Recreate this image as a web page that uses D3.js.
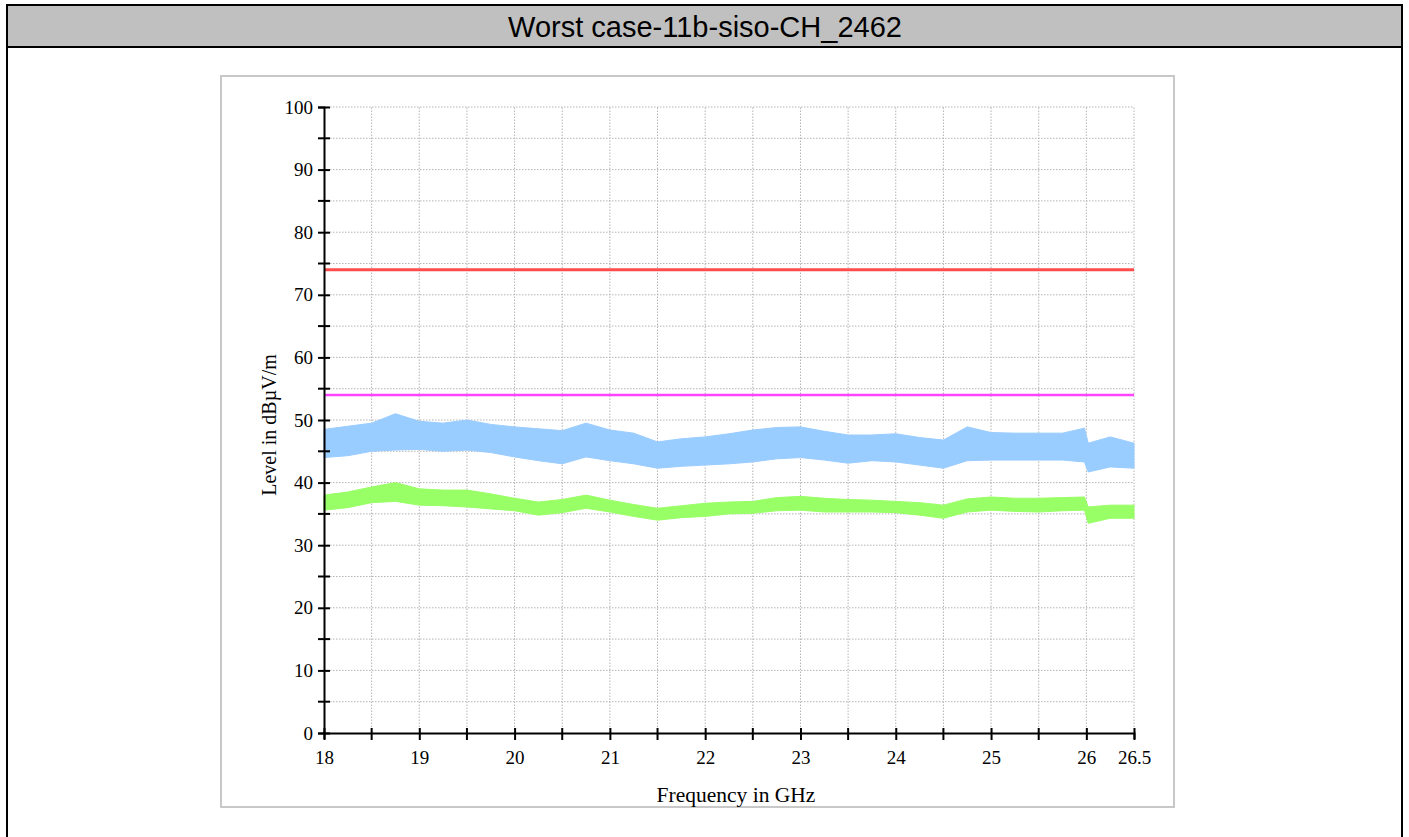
<!DOCTYPE html>
<html><head><meta charset="utf-8">
<script src="https://cdn.jsdelivr.net/npm/d3@7"></script>
<style>
html,body{margin:0;padding:0;background:#fff;}
svg{display:block;}
</style></head>
<body>
<script>
const title = "Worst case-11b-siso-CH_2462";
const xLabel = "Frequency in GHz";
const yLabel = "Level in dBµV/m";
const xTickLabels = [18,19,20,21,22,23,24,25,26,26.5];
const yTickLabels = [0,10,20,30,40,50,60,70,80,90,100];
const limitPeak = 74;
const limitAvg = 54;
const freq = [18,18.25,18.5,18.75,19,19.25,19.5,19.75,20,20.25,20.5,20.75,21,21.25,21.5,21.75,22,22.25,22.5,22.75,23,23.25,23.5,23.75,24,24.25,24.5,24.75,25,25.25,25.5,25.75,25.98,26.02,26.25,26.5];
const peakMax = [48.5,49.0,49.5,51.0,49.8,49.5,50.0,49.3,48.9,48.6,48.3,49.5,48.4,47.9,46.5,47.0,47.3,47.8,48.4,48.8,48.9,48.2,47.6,47.6,47.8,47.2,46.8,48.9,48.0,47.9,47.9,47.9,48.7,46.3,47.3,46.3];
const peakMin = [44.0,44.3,45.0,45.2,45.3,45.0,45.2,44.8,44.1,43.5,43.0,44.1,43.5,43.0,42.3,42.6,42.8,43.0,43.3,43.8,44.0,43.6,43.1,43.5,43.3,42.8,42.3,43.5,43.6,43.6,43.6,43.6,43.3,41.7,42.5,42.3];
const avgMax = [38.0,38.5,39.3,40.0,39.0,38.8,38.8,38.2,37.5,36.9,37.3,38.0,37.2,36.5,35.9,36.3,36.7,36.9,37.0,37.6,37.8,37.5,37.3,37.2,37.0,36.8,36.4,37.4,37.7,37.5,37.5,37.6,37.7,36.1,36.4,36.4];
const avgMin = [35.6,36.0,36.8,37.0,36.4,36.3,36.1,35.8,35.5,34.8,35.2,35.9,35.3,34.6,34.0,34.4,34.6,35.0,35.1,35.5,35.6,35.3,35.3,35.3,35.2,34.8,34.3,35.3,35.6,35.4,35.3,35.5,35.6,33.5,34.3,34.3];

const W = 1409, H = 837;
const svg = d3.select("body").append("svg").attr("width", W).attr("height", H);

// outer frame and title bar
svg.append("rect").attr("x",7).attr("y",5).attr("width",1395).attr("height",H).attr("fill","#fff").attr("stroke","#000").attr("stroke-width",2);
svg.append("rect").attr("x",7).attr("y",5).attr("width",1395).attr("height",42).attr("fill","#c0c0c0").attr("stroke","#000").attr("stroke-width",2);
svg.append("text").attr("x",705).attr("y",37).attr("text-anchor","middle")
  .attr("font-family","Liberation Sans, Arial, sans-serif").attr("font-size",29).attr("fill","#000").text(title);

// chart panel
svg.append("rect").attr("x",221).attr("y",76).attr("width",953).attr("height",731)
  .attr("fill","#fff").attr("stroke","#c8c8c8").attr("stroke-width",2);

const x = d3.scaleLinear().domain([18,26.5]).range([324,1134]);
const y = d3.scaleLinear().domain([0,100]).range([733,107]);

const g = svg.append("g");
// grid
const xGrid = d3.range(18.5, 26.51, 0.5);
const yGrid = d3.range(5, 100.1, 5);
g.selectAll(".vg").data(xGrid).join("line")
  .attr("x1",d=>x(d)).attr("x2",d=>x(d)).attr("y1",y(0)).attr("y2",y(100))
  .attr("stroke","#b4b4b4").attr("stroke-width",1).attr("stroke-dasharray","1.5,1.5");
g.selectAll(".hg").data(yGrid).join("line")
  .attr("x1",x(18)).attr("x2",x(26.5)).attr("y1",d=>y(d)).attr("y2",d=>y(d))
  .attr("stroke","#b4b4b4").attr("stroke-width",1).attr("stroke-dasharray","1.5,1.5");

// bands
const idx = d3.range(freq.length);
const area = (hi, lo) => d3.area().x(i=>x(freq[i])).y0(i=>y(lo[i])).y1(i=>y(hi[i])).curve(d3.curveLinear);
g.append("path").datum(idx).attr("d", area(peakMax, peakMin)).attr("fill","#99ccff").attr("stroke","#99ccff").attr("stroke-width",1);
g.append("path").datum(idx).attr("d", area(avgMax, avgMin)).attr("fill","#99ff66").attr("stroke","#99ff66").attr("stroke-width",1);

// limit lines
g.append("line").attr("x1",x(18)).attr("x2",x(26.5)).attr("y1",y(limitPeak)).attr("y2",y(limitPeak))
  .attr("stroke","#ff4d4d").attr("stroke-width",3);
g.append("line").attr("x1",x(18)).attr("x2",x(26.5)).attr("y1",y(limitAvg)).attr("y2",y(limitAvg))
  .attr("stroke","#ff44ff").attr("stroke-width",2.5);

// axes
const font = "Liberation Serif, Times New Roman, serif";
const yAxis = d3.axisLeft(y).tickValues(yTickLabels).tickSize(6).tickPadding(4).tickFormat(d3.format("d"));
const ya = svg.append("g").attr("transform",`translate(${x(18)},0)`).call(yAxis);
ya.select(".domain").attr("stroke","#000").attr("stroke-width",2);
ya.selectAll(".tick line").attr("stroke","#000").attr("stroke-width",2).attr("x2",6).attr("x1",-6);
ya.selectAll(".tick text").attr("font-family",font).attr("font-size",19).attr("fill","#000").attr("x",-11);
// minor y ticks
ya.selectAll(".minor").data(d3.range(5,100,10)).join("line")
  .attr("x1",-6).attr("x2",6).attr("y1",d=>y(d)).attr("y2",d=>y(d)).attr("stroke","#000").attr("stroke-width",2);

const xAxis = d3.axisBottom(x).tickValues(xTickLabels).tickSize(6).tickPadding(12).tickFormat(d=>String(d));
const xa = svg.append("g").attr("transform",`translate(0,${y(0)})`).call(xAxis);
xa.select(".domain").attr("stroke","#000").attr("stroke-width",2);
xa.selectAll(".tick line").attr("stroke","#000").attr("stroke-width",2).attr("y1",-5).attr("y2",7);
xa.selectAll(".tick text").attr("font-family",font).attr("font-size",19).attr("fill","#000");
xa.selectAll(".minor").data(d3.range(18.5,26.1,1)).join("line")
  .attr("x1",d=>x(d)).attr("x2",d=>x(d)).attr("y1",-5).attr("y2",7).attr("stroke","#000").attr("stroke-width",2);

svg.append("text").attr("x",736).attr("y",802).attr("text-anchor","middle")
  .attr("font-family",font).attr("font-size",21.5).attr("fill","#000").text(xLabel);
svg.append("text").attr("transform","translate(276,425) rotate(-90)").attr("text-anchor","middle")
  .attr("font-family",font).attr("font-size",20).attr("fill","#000").text(yLabel);
</script>
</body></html>
